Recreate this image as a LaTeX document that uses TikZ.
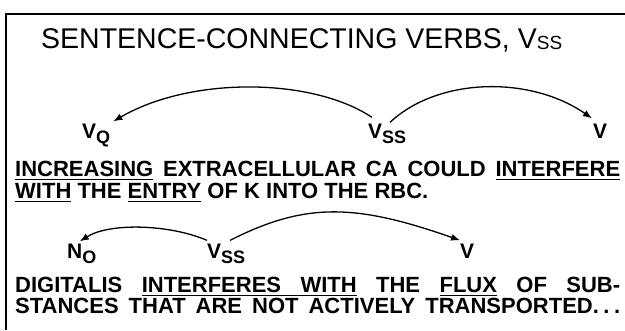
\documentclass[tikz,border=0pt]{standalone}
\usepackage{fontspec}
\setmainfont{Liberation Sans}
\usetikzlibrary{arrows.meta,calc}
\newcommand\ulw[1]{\setbox0=\hbox{#1}\rlap{\vrule height -2.8pt depth 4.2pt width \wd0}\box0\relax}
\newcommand\ulsp{\leaders\hrule height -2.8pt depth 4.2pt\hskip\fontdimen2\font plus \fontdimen3\font minus \fontdimen4\font}
\newcommand\titlefont{\fontsize{28.5}{30}\selectfont}
\newcommand\lblfont{\fontsize{21}{22}\selectfont\bfseries}
\newcommand\sentfont{\fontsize{22}{24}\selectfont\bfseries}
\newcommand\subs[1]{\raisebox{-5pt}{\fontsize{18}{19}\selectfont #1}}
\begin{document}
\begin{tikzpicture}[x=1pt,y=-1pt,
  frame/.style={line width=1.2pt},
  lbl/.style={inner sep=0pt, anchor=base west, font=\lblfont},
  sent/.style={inner sep=0pt, anchor=base west, font=\sentfont},
  arr/.style={line width=1.3pt, -{Latex[length=9pt,width=7pt]}}]
\useasboundingbox (0,0) rectangle (625,330);
\draw[frame] (625,14) -- (6,14) -- (6,330);
\node[inner sep=0pt, anchor=base west, font=\titlefont] (title) at (41,48)
  {SENTENCE-CONNECTING VERBS, V\raisebox{-1.5pt}{\fontsize{19}{20}\selectfont SS}};
% row 1
\node[lbl] (vq) at (82,138) {V\subs{Q}};
\node[lbl] (vss1) at (368,138) {V\subs{SS}};
\node[lbl] (v1) at (593,138) {V};
\draw[arr] ($(vss1.north west)+(4,-6)$) .. controls +(-60,-40) and +(77,-45) .. ($(vq.north east)+(3,-2)$);
\draw[arr] ($(vss1.north west)+(22,-1)$) .. controls +(48,-45) and +(-62,-43) .. ($(v1.north west)+(-1,-5)$);
% sentence 1
\node[sent] (s1a) at (15,176) {\hbox to 605pt{\ulw{INCREASING} EXTRACELLULAR CA COULD \ulw{INTERFERE}}};
\node[sent] (s1b) at (15,198) {\ulw{WITH} THE \ulw{ENTRY} OF K INTO THE RBC.};
% row 2
\node[lbl] (no) at (67,258) {N\subs{O}};
\node[lbl] (vss2) at (207,258) {V\subs{SS}};
\node[lbl] (v2) at (460,258) {V};
\draw[arr] ($(vss2.north west)+(0,-3)$) .. controls +(-37,-16) and +(30,-19) .. ($(no.north)+(-2,-2)$);
\draw[arr] ($(vss2.north west)+(23,-3)$) .. controls +(75,-38) and +(-105,-37) .. ($(v2.north west)+(0,-3)$);
% sentence 2
\node[sent] (s2a) at (15,292) {\hbox to 605pt{DIGITALIS \ulw{INTERFERES}\ulsp\ulw{WITH} THE \ulw{FLUX} OF SUB-}};
\node[sent] (s2b) at (15,313) {\hbox to 605pt{STANCES THAT ARE NOT ACTIVELY TRANSPORTED.\kern4.5pt.\kern4.5pt.}};
\end{tikzpicture}
\end{document}
